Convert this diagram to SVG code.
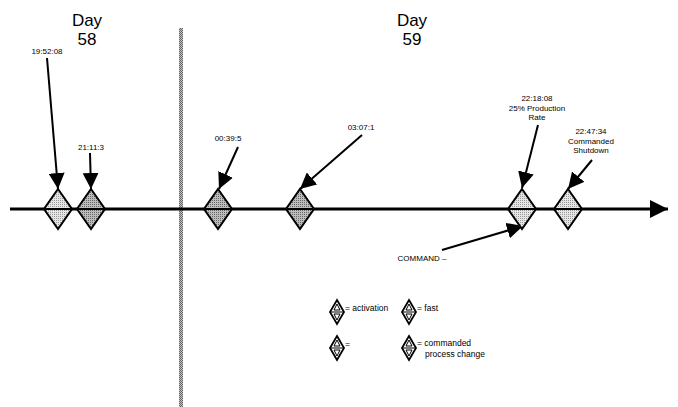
<svg xmlns="http://www.w3.org/2000/svg" width="678" height="407" viewBox="0 0 678 407">
<style>
text{font-family:"Liberation Sans",Arial,sans-serif;fill:#000}
.day{font-size:17px;text-anchor:middle}
.lbl{font-size:8px;text-anchor:middle}
.leg{font-size:8.5px}
.arr{stroke:#000;stroke-width:2;fill:none;marker-end:url(#ah)}
.dia{stroke:#000;stroke-width:2}
.mid{stroke:#000;stroke-width:2}
.lite{fill:url(#stipL)}
.dark{fill:url(#stipD)}
.icon{fill:#fff;stroke:#000;stroke-width:1.8}
.thin{stroke:#000;stroke-width:1;fill:none}
</style>
<defs>
<marker id="ah" viewBox="0 0 16 16" refX="16" refY="8" markerWidth="16" markerHeight="16" markerUnits="userSpaceOnUse" orient="auto">
<path d="M0,0 L16,8 L0,16 z" fill="#000"/>
</marker>
<marker id="ahBig" viewBox="0 0 18 18" refX="18" refY="9" markerWidth="18" markerHeight="18" markerUnits="userSpaceOnUse" orient="auto">
<path d="M0,0 L18,9 L0,18 z" fill="#000"/>
</marker>
<pattern id="stipL" width="2" height="2" patternUnits="userSpaceOnUse">
<rect width="2" height="2" fill="#e6e6e6"/><rect width="1" height="1" fill="#999"/>
</pattern>
<pattern id="stipD" width="2" height="2" patternUnits="userSpaceOnUse">
<rect width="2" height="2" fill="#bdbdbd"/><rect width="1" height="1" fill="#666"/>
</pattern>
<pattern id="hatch" width="2" height="2" patternUnits="userSpaceOnUse">
<rect width="2" height="2" fill="#c0c0c0"/><rect width="1" height="1" fill="#666"/><rect x="1" y="1" width="1" height="1" fill="#666"/>
</pattern>
</defs>

<g id="day-labels">
<text class="day" x="87" y="26">Day</text>
<text class="day" x="87" y="45">58</text>
<text class="day" x="412" y="26">Day</text>
<text class="day" x="412" y="45">59</text>
</g>

<g id="divider">
<rect x="179" y="28" width="4" height="379" fill="url(#hatch)"/>
</g>

<g id="connectors">
<line x1="10" y1="209" x2="668" y2="209" stroke="#000" stroke-width="3" marker-end="url(#ahBig)"/>
<line class="arr" x1="47" y1="58" x2="58" y2="189"/>
<line class="arr" x1="90" y1="153" x2="91" y2="189"/>
<line class="arr" x1="238" y1="147" x2="219" y2="189"/>
<line class="arr" x1="362" y1="135" x2="300" y2="189"/>
<line class="arr" x1="538" y1="125" x2="522" y2="188"/>
<line class="arr" x1="592" y1="160" x2="568" y2="189"/>
<line class="arr" x1="442" y1="250" x2="523" y2="226"/>
</g>

<g id="ev1">
<path class="dia lite" d="M58,189 L72,209 L58,229 L44,209 z"/>
<line class="mid" x1="44" y1="209" x2="72" y2="209"/>
<text class="lbl" x="47" y="54">19:52:08</text>
</g>
<g id="ev2">
<path class="dia dark" d="M91,189 L105,209 L91,229 L77,209 z"/>
<line class="mid" x1="77" y1="209" x2="105" y2="209"/>
<text class="lbl" x="91" y="150">21:11:3</text>
</g>
<g id="ev3">
<path class="dia dark" d="M218,189 L232,209 L218,229 L204,209 z"/>
<line class="mid" x1="204" y1="209" x2="232" y2="209"/>
<text class="lbl" x="228" y="141">00:39:5</text>
</g>
<g id="ev4">
<path class="dia dark" d="M300,189 L314,209 L300,229 L286,209 z"/>
<line class="mid" x1="286" y1="209" x2="314" y2="209"/>
<text class="lbl" x="361" y="130">03:07:1</text>
</g>
<g id="ev5">
<path class="dia lite" d="M522,189 L536,209 L522,229 L508,209 z"/>
<line class="mid" x1="508" y1="209" x2="536" y2="209"/>
<text class="lbl" x="537" y="101">22:18:08</text>
<text class="lbl" x="537" y="111">25% Production</text>
<text class="lbl" x="537" y="120">Rate</text>
</g>
<g id="ev6">
<path class="dia lite" d="M568,189 L582,209 L568,229 L554,209 z"/>
<line class="mid" x1="554" y1="209" x2="582" y2="209"/>
<text class="lbl" x="591" y="134">22:47:34</text>
<text class="lbl" x="591" y="144">Commanded</text>
<text class="lbl" x="591" y="153">Shutdown</text>
</g>
<g id="command">
<text class="lbl" x="422" y="261">COMMAND –</text>
</g>

<g id="legend">
<g id="leg-activation">
<path class="icon" d="M337,300 L344,312 L337,324 L330,312 z"/>
<line class="thin" x1="330" y1="312" x2="344" y2="312"/>
<path class="thin" d="M334,310 L337,304 L340,310 z M334,314 L337,320 L340,314 z"/>
<text class="leg" x="345" y="311">= activation</text>
</g>
<g id="leg-fast">
<path class="icon" d="M409,300 L416,312 L409,324 L402,312 z"/>
<line class="thin" x1="402" y1="312" x2="416" y2="312"/>
<path class="thin" d="M406,310 L409,304 L412,310 z M406,314 L409,320 L412,314 z"/>
<text class="leg" x="417" y="311">= fast</text>
</g>
<g id="leg-blank">
<path class="icon" d="M337,336 L344,348 L337,360 L330,348 z"/>
<line class="thin" x1="330" y1="348" x2="344" y2="348"/>
<path class="thin" d="M334,346 L337,340 L340,346 z M334,350 L337,356 L340,350 z"/>
<text class="leg" x="345" y="347">=</text>
</g>
<g id="leg-commanded">
<path class="icon" d="M409,336 L416,348 L409,360 L402,348 z"/>
<line class="thin" x1="402" y1="348" x2="416" y2="348"/>
<path class="thin" d="M406,346 L409,340 L412,346 z M406,350 L409,356 L412,350 z"/>
<text class="leg" x="417" y="346">= commanded</text>
<text class="leg" x="425" y="357">process change</text>
</g>
</g>
</svg>
